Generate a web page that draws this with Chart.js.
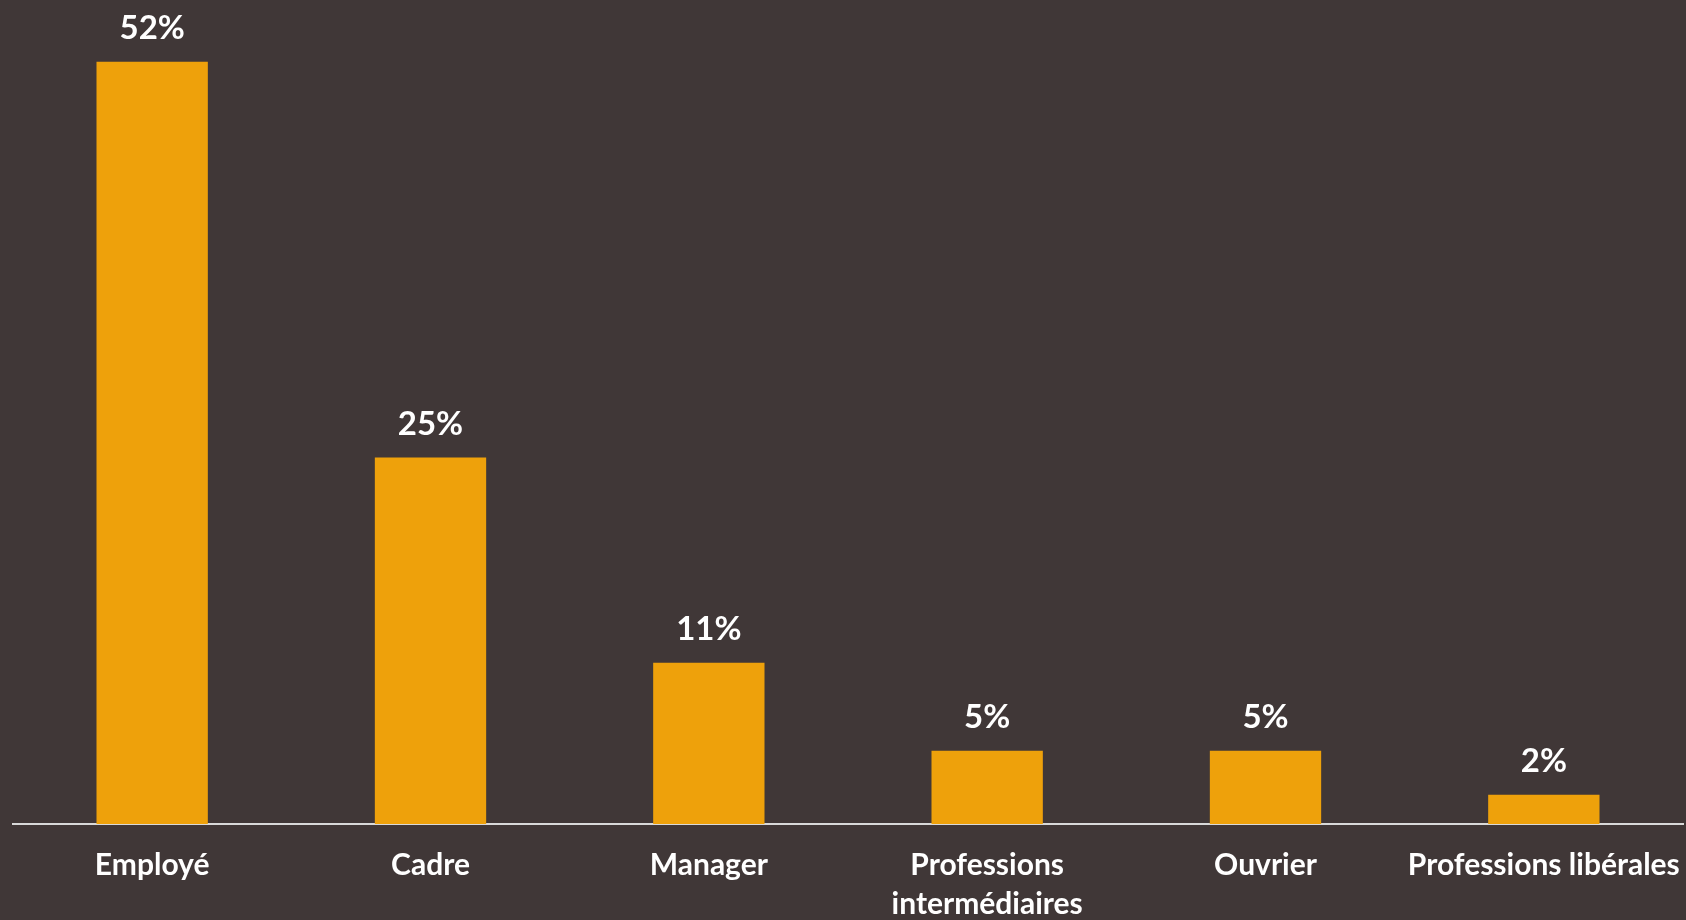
<!DOCTYPE html>
<html>
<head>
<meta charset="utf-8">
<script src="https://cdn.jsdelivr.net/npm/chart.js@4/dist/chart.umd.min.js"></script>
<style>
  html, body { margin: 0; padding: 0; background: #403737; }
  #wrap { width: 1686px; height: 920px; }
</style>
</head>
<body>
<div id="wrap"><canvas id="chart" width="1686" height="920"></canvas></div>
<script>
// --- données ---
const categories = ['Employé', 'Cadre', 'Manager', ['Professions', 'intermédiaires'], 'Ouvrier', 'Professions libérales'];
const values = [52, 25, 11, 5, 5, 2];

const BAR_COLOR = '#EEA10B';
const TEXT_COLOR = '#FFFFFF';
const FONT = 'Lato, "Open Sans", sans-serif';

// étiquettes de valeur au-dessus des barres
const valueLabels = {
    id: 'valueLabels',
    afterDatasetsDraw(chart) {
        const ctx = chart.ctx;
        const meta = chart.getDatasetMeta(0);
        ctx.save();
        ctx.fillStyle = TEXT_COLOR;
        ctx.font = 'bold 33px ' + FONT;
        ctx.textAlign = 'center';
        ctx.textBaseline = 'middle';
        meta.data.forEach((bar, i) => {
            ctx.fillText(values[i] + '%', bar.x, bar.y - 33);
        });
        ctx.restore();
    }
};

new Chart(document.getElementById('chart'), {
    type: 'bar',
    data: {
        labels: categories,
        datasets: [{
            data: values,
            backgroundColor: BAR_COLOR,
            categoryPercentage: 0.4,
            barPercentage: 1
        }]
    },
    options: {
        responsive: false,
        animation: false,
        layout: { padding: { left: 13, right: 3, top: 3, bottom: 0 } },
        plugins: {
            legend: { display: false },
            tooltip: { enabled: false }
        },
        scales: {
            y: { display: false, min: 0, max: 56 },
            x: {
                grid: { display: false, drawTicks: false },
                border: { display: true, color: '#D9D9D9', width: 2 },
                ticks: {
                    color: TEXT_COLOR,
                    font: { family: FONT, size: 30, weight: 'bold', lineHeight: 1.29 },
                    padding: 22,
                    maxRotation: 0,
                    autoSkip: false
                },
                afterFit(scale) {
                    scale.height = 96;
                    scale.paddingLeft = 0;
                    scale.paddingRight = 0;
                }
            }
        }
    },
    plugins: [valueLabels]
});
</script>
</body>
</html>
